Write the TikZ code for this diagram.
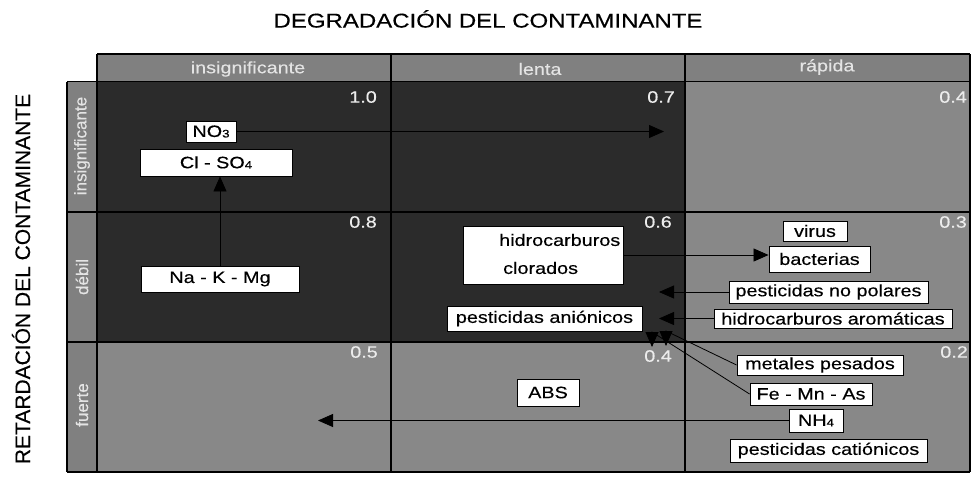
\documentclass[tikz,border=0pt]{standalone}
\usepackage{fontspec}
\setmainfont{Liberation Sans}[FakeStretch=1.2, FakeBold=0.3]
\newfontfamily\rotsans{Liberation Sans}[FakeBold=0.3]
\usetikzlibrary{arrows.meta}
\definecolor{cdark}{RGB}{43,43,43}
\definecolor{cgray}{RGB}{136,136,136}
\definecolor{chead}{RGB}{128,128,128}
\definecolor{cheadtxt}{RGB}{228,228,228}
\definecolor{cnum}{RGB}{236,236,236}
\newcommand{\lbl}{\fontsize{16.5}{18}\selectfont}
\newcommand{\sub}[1]{\raisebox{-0.5pt}{\fontsize{11}{11}\selectfont #1}}
\tikzset{
  box/.style={draw=black, fill=white, line width=0.9pt, inner sep=0pt, font=\lbl, text=black},
  hdr/.style={font=\lbl, text=cheadtxt, inner sep=0pt},
  rowhdr/.style={font=\rotsans\fontsize{17}{18}\selectfont, text=cheadtxt, rotate=90, inner sep=0pt},
  num/.style={font=\lbl, text=cnum, anchor=east, inner sep=0pt},
  arr/.style={draw=black, line width=0.8pt, -{Triangle[length=15pt,width=13pt]}},
  grid/.style={draw=black, line width=1.1pt}
}
\begin{document}
\begin{tikzpicture}[x=1pt,y=-1pt]
\useasboundingbox (0,0) rectangle (976,477);
% backgrounds
\fill[chead] (97,54) rectangle (970,81.5);
\fill[chead] (67,81.5) rectangle (97,472);
\fill[cdark] (97,81.5) rectangle (685,342);
\fill[cgray] (685,81.5) rectangle (970,342);
\fill[cgray] (97,342) rectangle (970,472);
% grid lines
\draw[grid] (97,54) -- (970,54);
\draw[grid] (67,81.5) -- (970,81.5);
\draw[grid] (67,212) -- (970,212);
\draw[grid] (67,342) -- (970,342);
\draw[grid] (67,472) -- (970,472);
\draw[grid] (67,81.5) -- (67,472);
\draw[grid] (97,54) -- (97,472);
\draw[grid] (391,54) -- (391,472);
\draw[grid] (685,54) -- (685,472);
\draw[grid] (970,54) -- (970,472);
% titles
\node[font=\fontsize{20}{22}\selectfont, inner sep=0pt] (title) at (488,19) {DEGRADACIÓN DEL CONTAMINANTE};
\node[font=\rotsans\fontsize{21}{22}\selectfont, rotate=90, inner sep=0pt] (ltitle) at (21,279) {RETARDACIÓN DEL CONTAMINANTE};
% headers
\node[hdr] (h1) at (248,69) {insignificante};
\node[hdr] (h2) at (540,69) {lenta};
\node[hdr] (h3) at (827,67) {rápida};
\node[rowhdr] (r1) at (82,146) {insignificante};
\node[rowhdr] (r2) at (82,277) {débil};
\node[rowhdr] (r3) at (82,405) {fuerte};
% numbers
\node[num] (n11) at (377,97) {1.0};
\node[num] (n12) at (675,97) {0.7};
\node[num] (n13) at (967,97) {0.4};
\node[num] (n21) at (377,222) {0.8};
\node[num] (n22) at (672,222) {0.6};
\node[num] (n23) at (967,222) {0.3};
\node[num] (n31) at (378,352) {0.5};
\node[num] (n32) at (672,356) {0.4};
\node[num] (n33) at (968,352) {0.2};
% boxes
\node[box, minimum width=50pt, minimum height=21pt] (no3) at (211,131.5) {NO\sub{3}};
\node[box, minimum width=152pt, minimum height=27pt] (clso4) at (216,162.5) {Cl - SO\sub{4}};
\node[box, minimum width=158pt, minimum height=26pt] (nakmg) at (220,279) {Na - K - Mg};
\node[box, minimum width=160pt, minimum height=58pt] (hc) at (543,255) {};
\node[font=\lbl, anchor=west, inner sep=0pt] (hcA) at (499,240) {hidrocarburos};
\node[font=\lbl, anchor=west, inner sep=0pt] (hcB) at (503,268) {clorados};
\node[box, minimum width=195pt, minimum height=25pt] (pan) at (544.5,318.5) {pesticidas aniónicos};
\node[box, minimum width=64pt, minimum height=20pt] (virus) at (815,231) {virus};
\node[box, minimum width=101pt, minimum height=26pt] (bact) at (819.5,259) {bacterias};
\node[box, minimum width=199pt, minimum height=22pt] (pnp) at (828.5,292) {pesticidas no polares};
\node[box, minimum width=238pt, minimum height=19pt] (ha) at (833,318.5) {hidrocarburos aromáticas};
\node[box, minimum width=166pt, minimum height=20pt] (met) at (820,365) {metales pesados};
\node[box, minimum width=122pt, minimum height=22pt] (fe) at (811,394) {Fe - Mn - As};
\node[box, minimum width=54pt, minimum height=23pt] (nh4) at (816,420.5) {NH\sub{4}};
\node[box, minimum width=197pt, minimum height=23pt] (pcat) at (828.5,450.5) {pesticidas catiónicos};
\node[box, minimum width=62pt, minimum height=27pt] (abs) at (548,392.5) {ABS};
% arrow end points
\coordinate (no3T) at (664,131.5);
\coordinate (pnpT) at (659,292);
\coordinate (haT) at (659,318.5);
\coordinate (nh4T) at (318,420.5);
\coordinate (metB) at (666,331);
\coordinate (metT) at (666,346);
\coordinate (feB) at (652,332);
\coordinate (feT) at (652,347);
% connectors
\draw[arr] (no3.east) -- (no3T);
\draw[arr] (nakmg.north) -- (nakmg.north |- clso4.south);
\draw[arr] (hc.east) -- (hc.east -| bact.west);
\draw[arr] (pnp.west) -- (pnpT);
\draw[arr] (ha.west) -- (haT);
\draw[arr] (nh4.west) -- (nh4T);
\draw[arr] (met.west) -- (metB) -- (metT);
\draw[arr] (fe.west) -- (feB) -- (feT);
\end{tikzpicture}
\end{document}
